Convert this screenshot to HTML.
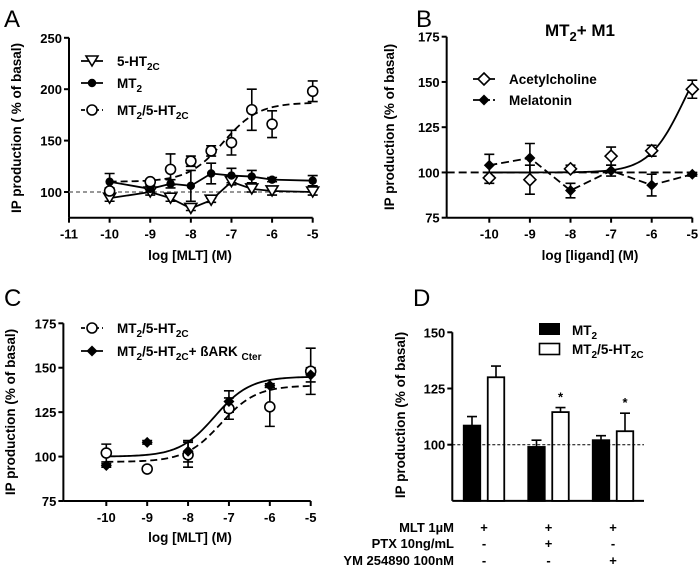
<!DOCTYPE html>
<html><head><meta charset="utf-8">
<style>
body{margin:0;background:#fff;}
svg{display:block;font-family:"Liberation Sans",Arial,sans-serif;}
.tk{font-size:13px;font-weight:bold;}
.tt{font-size:13.5px;font-weight:bold;}
.lg{font-size:13.5px;font-weight:bold;}
.pl{font-size:24px;}
</style></head>
<body>
<svg id="fig" width="700" height="566" viewBox="0 0 700 566"></svg>
<script>
// ---------- Panel A data ----------
const aX = [-10,-9,-8.5,-8,-7.5,-7,-6.5,-6,-5];
const aHT2C = [94,100,94,84,92,110,103,101,100];
const aHT2CErr = [3,3,3,2,2,3,3,4,3];
const aMT2 = [110,103,108,106,118,116,115,112,111];
const aMT2Err = [8,3,4,15,10,7,6,2,5];
const aHet = [101,110,122,130,140,148,180,166,198];
const aHetErr = [3,2,15,5,5,12,20,13,10];
const aFit = [110,187,-7.2,1];
const aXTicks = [-11,-10,-9,-8,-7,-6,-5];
const aYTicks = [100,150,200,250];
// ---------- Panel B data ----------
const bX = [-10,-9,-8,-7,-6,-5];
const bACh = [97,96,102,109,112,146];
const bAChErr = [3,8,2,5,3,5];
const bMLT = [104,108,90,101,93,99];
const bMLTErr = [6,8,4,3,6,1];
const bFit = [100,180,-5.2,1];
const bXTicks = [-10,-9,-8,-7,-6,-5];
const bYTicks = [75,100,125,150,175];
// ---------- Panel C data ----------
const cX = [-10,-9,-8,-7,-6,-5];
const cHet = [102,93,101,127,128,148];
const cHetErr = [5,1,7,6,11,13];
const cBark = [95,108,103,131,140,146];
const cBarkErr = [1,1,6,6,1,4];
const cFitHet = [97,140,-7.2,1];
const cFitBark = [100,145,-7.35,1];
const cXTicks = [-10,-9,-8,-7,-6,-5];
const cYTicks = [75,100,125,150,175];
// ---------- Panel D data ----------
const dGroups = ['g1','g2','g3'];
const dMT2 = [108.5,99,102];
const dMT2Err = [4,3,2];
const dHet = [130,114.5,106];
const dHetErr = [5,2,8];
const dStars = ['', '*', '*'];
const dMLT = ['+','+','+'];
const dPTX = ['-','+','-'];
const dYM = ['-','-','+'];
const dYTicks = [100,125,150];

const svg = document.getElementById('fig');
const NS = 'http://www.w3.org/2000/svg';
function mk(tag, attrs, parent){
  const e = document.createElementNS(NS, tag);
  for (const k in attrs) e.setAttribute(k, attrs[k]);
  (parent||svg).appendChild(e);
  return e;
}
function txt(x,y,s,cls,parent,anchor){
  const t = mk('text',{x:x,y:y,class:cls},parent);
  t.style.textAnchor = anchor || (cls==='tk'||cls==='tt' ? 'middle' : 'start');
  t.innerHTML = s;
  return t;
}
function lin(d0,d1,r0,r1){return v=>r0+(v-d0)*(r1-r0)/(d1-d0);}
function sig(p,x){return p[0]+(p[1]-p[0])/(1+Math.pow(10,(p[2]-x)*p[3]));}

function axes(g, sx, sy, x0, x1, y0, y1, xt, yt){
  mk('line',{x1:sx(x0),y1:sy(y0),x2:sx(x0),y2:sy(y1),stroke:'#000','stroke-width':2},g);
  mk('line',{x1:sx(x0),y1:sy(y0),x2:sx(x1),y2:sy(y0),stroke:'#000','stroke-width':2},g);
  yt.forEach(v=>{
    mk('line',{x1:sx(x0)-5,y1:sy(v),x2:sx(x0),y2:sy(v),stroke:'#000','stroke-width':2},g);
    txt(sx(x0)-7,sy(v)+5,v,'tk',g,'end');
  });
  if(xt) xt.forEach(v=>{
    mk('line',{x1:sx(v),y1:sy(y0),x2:sx(v),y2:sy(y0)+5,stroke:'#000','stroke-width':2},g);
    txt(sx(v),sy(y0)+21,v,'tk',g);
  });
}
function errs(g,sx,sy,xs,ys,es,name){
  xs.forEach((x,i)=>{
    const e = mk('path',{d:`M${sx(x)},${sy(ys[i]-es[i])}V${sy(ys[i]+es[i])}M${sx(x)-5},${sy(ys[i]+es[i])}h10M${sx(x)-5},${sy(ys[i]-es[i])}h10`,stroke:'#000','stroke-width':1.6,fill:'none'},g);
    
    
  });
}
function pathLine(g,pts,dash,name){
  const p = mk('path',{d:'M'+pts.map(p=>p.join(',')).join('L'),stroke:'#000','stroke-width':1.8,fill:'none'},g);
  if(dash) p.setAttribute('stroke-dasharray',dash);
  
  
}
function curve(g,sx,sy,p,xa,xb,dash,name){
  const pts=[];
  for(let x=xa;x<=xb+1e-9;x+=0.05) pts.push([sx(x),sy(sig(p,x))]);
  pathLine(g,pts,dash,name);
}
function marker(g,type,x,y,name){
  let e;
  if(type==='oc') e=mk('circle',{cx:x,cy:y,r:5,fill:'#fff',stroke:'#000','stroke-width':1.6},g);
  if(type==='fc') e=mk('circle',{cx:x,cy:y,r:4.2,fill:'#000'},g);
  if(type==='tri') e=mk('path',{d:`M${x-6},${y-5}H${x+6}L${x},${y+5}Z`,fill:'#fff',stroke:'#000','stroke-width':1.6},g);
  if(type==='od') e=mk('path',{d:`M${x},${y-6}L${x+6},${y}L${x},${y+6}L${x-6},${y}Z`,fill:'#fff',stroke:'#000','stroke-width':1.6},g);
  if(type==='fd') e=mk('path',{d:`M${x},${y-5.5}L${x+5.5},${y}L${x},${y+5.5}L${x-5.5},${y}Z`,fill:'#000'},g);
  
  
}
function points(g,sx,sy,xs,ys,type,name){xs.forEach((x,i)=>marker(g,type,sx(x),sy(ys[i]),name));}
function legend(g,x,y,type,dash,label,name){
  const lg = mk('g',{},g);
  
  
  const l = mk('line',{x1:x-11,y1:y,x2:x+11,y2:y,stroke:'#000','stroke-width':1.8},lg);
  if(dash) l.setAttribute('stroke-dasharray',dash);
  marker(lg,type,x,y,name+'-marker');
  txt(x+25,y+5,label,'lg',lg);
}
function ytitle(g,x,y,s){
  const t = mk('text',{x:0,y:0,class:'tt',transform:`translate(${x},${y}) rotate(-90)`},g);
  t.style.textAnchor='middle';
  t.textContent = s;
  
  
}
function grp(name){const g=mk('g',{});return g;}

// ===== Panel A =====
(function(){
  const g = grp('panel-a');
  const sx = lin(-11,-5,69,312.7), sy = lin(100,150,192,140.6);
  txt(4,27,'A','pl',g);
  axes(g,sx,sy,-11,-5,75,250,aXTicks,aYTicks);
  mk('line',{x1:sx(-11),y1:sy(100),x2:sx(-5),y2:sy(100),stroke:'#777','stroke-width':1.5,'stroke-dasharray':'4,3'},g);
  ytitle(g,21,128,'IP production ( % of basal)');
  txt(190,260,'log [MLT] (M)','tt',g);
  errs(g,sx,sy,aX,aHT2C,aHT2CErr,'ht2c');
  errs(g,sx,sy,aX,aMT2,aMT2Err,'mt2');
  errs(g,sx,sy,aX,aHet,aHetErr,'mt2-ht2c');
  pathLine(g,aX.map((x,i)=>[sx(x),sy(aHT2C[i])]),null,'ht2c-line');
  pathLine(g,aX.map((x,i)=>[sx(x),sy(aMT2[i])]),null,'mt2-line');
  curve(g,sx,sy,aFit,-10,-5,'7,4','mt2-ht2c-fit');
  points(g,sx,sy,aX,aHT2C,'tri','ht2c-point');
  points(g,sx,sy,aX,aMT2,'fc','mt2-point');
  points(g,sx,sy,aX,aHet,'oc','mt2-ht2c-point');
  legend(g,92,61,'tri',null,'5-HT<tspan dy="4" font-size="10">2C</tspan>','legend-ht2c');
  legend(g,92,83,'fc',null,'MT<tspan dy="4" font-size="10">2</tspan>','legend-mt2');
  legend(g,92,110,'oc','4,3','MT<tspan dy="4" font-size="10">2</tspan><tspan dy="-4">/5-HT</tspan><tspan dy="4" font-size="10">2C</tspan>','legend-mt2-ht2c');
})();

// ===== Panel B =====
(function(){
  const g = grp('panel-b');
  const sx = lin(-10,-5,489.3,692.3), sy = lin(75,175,217.7,36.7);
  txt(416,27,'B','pl',g);
  const x0 = -11.05;
  axes(g,sx,sy,x0,-5,75,175,bXTicks,bYTicks);
  const ttl = txt(580,36,'MT<tspan dy="5" font-size="13">2</tspan><tspan dy="-5">+ M1</tspan>','tt',g);
  ttl.style.fontSize='17px';
  ytitle(g,394,127,'IP production (% of basal)');
  txt(590,260,'log [ligand] (M)','tt',g);
  mk('line',{x1:sx(x0),y1:sy(100),x2:sx(-5),y2:sy(100),stroke:'#000','stroke-width':1.8,'stroke-dasharray':'8,4'},g);
  errs(g,sx,sy,bX,bACh,bAChErr,'acetylcholine');
  errs(g,sx,sy,bX,bMLT,bMLTErr,'melatonin');
  curve(g,sx,sy,bFit,-10,-5,null,'acetylcholine-fit');
  pathLine(g,bX.map((x,i)=>[sx(x),sy(bMLT[i])]),'8,4','melatonin-line');
  points(g,sx,sy,bX,bACh,'od','acetylcholine-point');
  points(g,sx,sy,bX,bMLT,'fd','melatonin-point');
  legend(g,484,79,'od',null,'Acetylcholine','legend-acetylcholine');
  legend(g,484,100,'fd','7,3','Melatonin','legend-melatonin');
})();

// ===== Panel C =====
(function(){
  const g = grp('panel-c');
  const sx = lin(-10,-5,106.3,310.7), sy = lin(75,175,501,323.3);
  txt(4,306,'C','pl',g);
  const x0 = -11.05;
  axes(g,sx,sy,x0,-5,75,175,cXTicks,cYTicks);
  ytitle(g,15,412,'IP production (% of basal)');
  txt(190,542,'log [MLT] (M)','tt',g);
  errs(g,sx,sy,cX,cHet,cHetErr,'mt2-ht2c');
  errs(g,sx,sy,cX,cBark,cBarkErr,'bark');
  curve(g,sx,sy,cFitHet,-10,-5,'7,4','mt2-ht2c-fit');
  curve(g,sx,sy,cFitBark,-10,-5,null,'bark-fit');
  points(g,sx,sy,cX,cHet,'oc','mt2-ht2c-point');
  points(g,sx,sy,cX,cBark,'fd','bark-point');
  legend(g,92,328,'oc','4,3','MT<tspan dy="4" font-size="10">2</tspan><tspan dy="-4">/5-HT</tspan><tspan dy="4" font-size="10">2C</tspan>','legend-mt2-ht2c');
  legend(g,92,351,'fd',null,'MT<tspan dy="4" font-size="10">2</tspan><tspan dy="-4">/5-HT</tspan><tspan dy="4" font-size="10">2C</tspan><tspan dy="-4">+ ßARK </tspan><tspan dy="4" font-size="10">Cter</tspan>','legend-bark');
})();

// ===== Panel D =====
(function(){
  const g = grp('panel-d');
  const sy = lin(100,125,444.7,388.5);
  const gx = i => 484 + i*64.5;
  txt(413,306,'D','pl',g);
  const ax = 452.3;
  mk('line',{x1:ax,y1:sy(75),x2:ax,y2:sy(150),stroke:'#000','stroke-width':2},g);
  mk('line',{x1:ax,y1:sy(75),x2:644,y2:sy(75),stroke:'#000','stroke-width':2},g);
  dYTicks.forEach(v=>{
    mk('line',{x1:ax-5,y1:sy(v),x2:ax,y2:sy(v),stroke:'#000','stroke-width':2},g);
    txt(ax-7,sy(v)+5,v,'tk',g,'end');
  });
  ytitle(g,405,415,'IP production (% of basal)');
  const bw = 16.5;
  dGroups.forEach((gname,i)=>{
    const c = gx(i);
    [[dMT2,dMT2Err,'#000',c-12,'mt2'],[dHet,dHetErr,'#fff',c+12,'mt2-ht2c']].forEach(([vals,er,fill,cx,nm])=>{
      const v = vals[i], e = er[i];
      mk('path',{d:`M${cx},${sy(v)}V${sy(v+e)}M${cx-5},${sy(v+e)}h10`,stroke:'#000','stroke-width':1.6},g);
      const r = mk('rect',{x:cx-bw/2,y:sy(v),width:bw,height:sy(75)-sy(v),fill:fill,stroke:'#000','stroke-width':1.8},g);
      
      
    });
    if(dStars[i]) txt(c+12,sy(dHet[i]+dHetErr[i])-6,dStars[i],'tk',g);
    txt(c,532,dMLT[i],'tk',g);
    txt(c,548,dPTX[i],'tk',g);
    txt(c,565,dYM[i],'tk',g);
  });
  mk('line',{x1:ax,y1:sy(100),x2:644,y2:sy(100),stroke:'#000','stroke-width':1,'stroke-dasharray':'3,2'},g);
  txt(454,532,'MLT 1µM','tk',g,'end');
  txt(454,548,'PTX 10ng/mL','tk',g,'end');
  txt(454,565,'YM 254890 100nM','tk',g,'end');
  const l1 = mk('g',{},g);
  
  
  mk('rect',{x:539,y:323,width:21,height:12,fill:'#000'},l1);
  txt(572,335,'MT<tspan dy="4" font-size="10">2</tspan>','lg',l1);
  const l2 = mk('g',{},g);
  
  
  mk('rect',{x:539.5,y:343.5,width:20,height:11,fill:'#fff',stroke:'#000','stroke-width':1.6},l2);
  txt(572,354,'MT<tspan dy="4" font-size="10">2</tspan><tspan dy="-4">/5-HT</tspan><tspan dy="4" font-size="10">2C</tspan>','lg',l2);
})();
</script>
</body></html>
